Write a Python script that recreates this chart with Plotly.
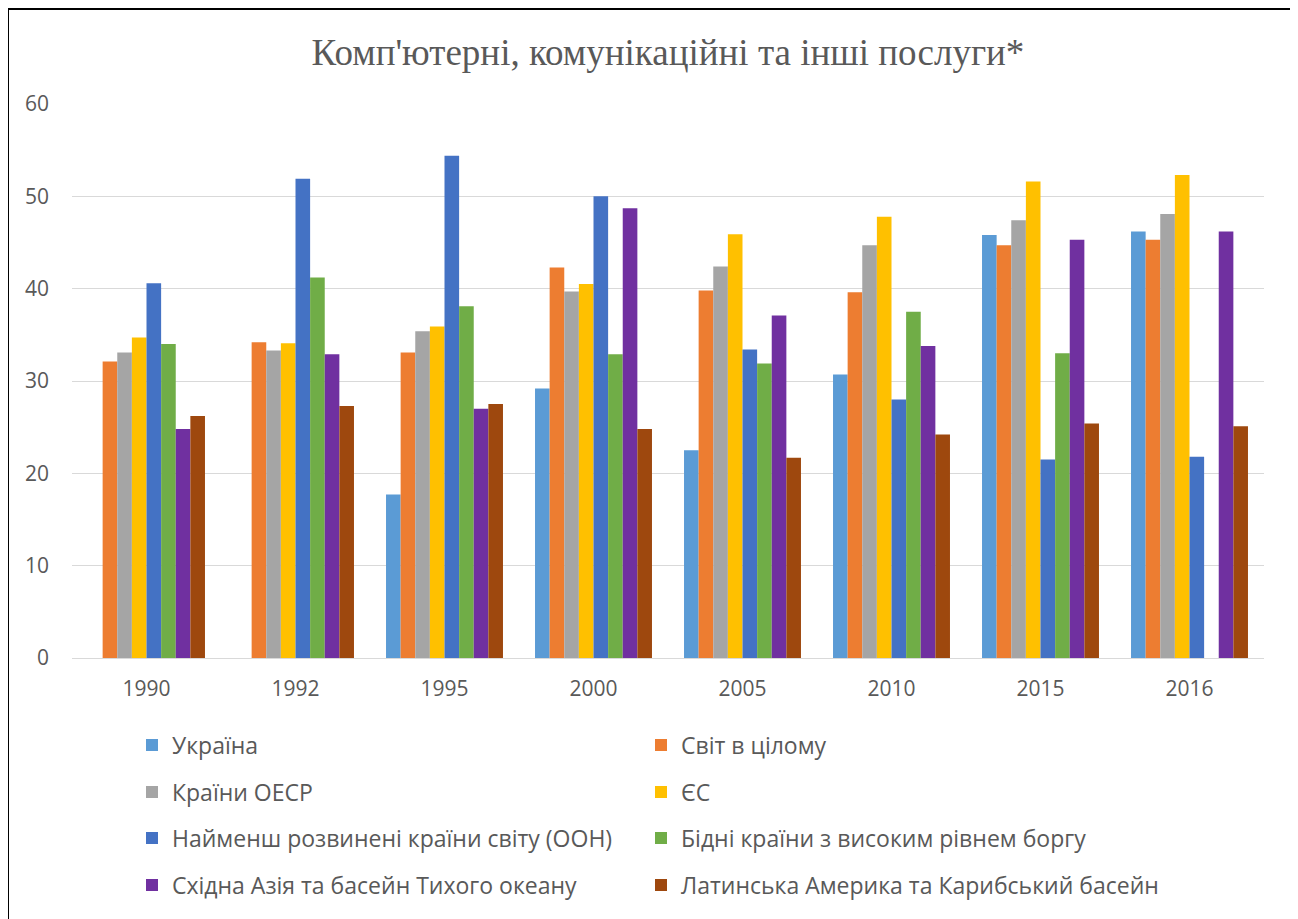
import plotly.graph_objects as go

years = ["1990", "1992", "1995", "2000", "2005", "2010", "2015", "2016"]
series_names = [
    "Україна",
    "Світ в цілому",
    "Країни ОЕСР",
    "ЄС",
    "Найменш розвинені країни світу (ООН)",
    "Бідні країни з високим рівнем боргу",
    "Східна Азія та басейн Тихого океану",
    "Латинська Америка та Карибський басейн",
]
ukraine = [None, None, 17.7, 29.2, 22.5, 30.7, 45.8, 46.2]
world = [32.1, 34.2, 33.1, 42.3, 39.8, 39.6, 44.7, 45.3]
oecd = [33.1, 33.3, 35.4, 39.7, 42.4, 44.7, 47.4, 48.1]
eu = [34.7, 34.1, 35.9, 40.5, 45.9, 47.8, 51.6, 52.3]
ldc = [40.6, 51.9, 54.4, 50.0, 33.4, 28.0, 21.5, 21.8]
hipc = [34.0, 41.2, 38.1, 32.9, 31.9, 37.5, 33.0, None]
eap = [24.8, 32.9, 27.0, 48.7, 37.1, 33.8, 45.3, 46.2]
lac = [26.2, 27.3, 27.5, 24.8, 21.7, 24.2, 25.4, 25.1]
y_ticks = [0, 10, 20, 30, 40, 50, 60]

series_values = [ukraine, world, oecd, eu, ldc, hipc, eap, lac]
colors = ["#5B9BD5", "#ED7D31", "#A5A5A5", "#FFC000",
          "#4472C4", "#70AD47", "#7030A0", "#9E480E"]

# page has an 8px body margin; figure coordinates are screen minus 8
OFF = 8
W, H = 1298 - OFF, 919 - OFF
fig = go.Figure()
legend_ids = ["legend"] + [f"legend{i}" for i in range(2, 9)]
for i, (name, vals, c) in enumerate(zip(series_names, series_values, colors)):
    fig.add_trace(go.Bar(
        name=name, x=years, y=vals, marker_color=c,
        marker_line_width=0,
        legend=legend_ids[i],
    ))

font_txt = "Open Sans"
gray = "#595959"
row_y = [745, 792, 838, 885]
col_x = [132, 641]
layout_legends = {}
for i, lid in enumerate(legend_ids):
    layout_legends[lid] = dict(
        orientation="h", xref="container", yref="container",
        x=(col_x[i % 2] - OFF) / W, y=1 - (row_y[i // 2] - OFF) / H,
        xanchor="left", yanchor="middle",
        font=dict(family=font_txt, size=23, color=gray),
        bgcolor="rgba(0,0,0,0)", itemclick=False, itemdoubleclick=False,
    )

left, right, top, bottom = 72, 1264, 104, 658
fig.update_layout(
    width=W, height=H,
    paper_bgcolor="white", plot_bgcolor="white",
    margin=dict(l=left - OFF, r=1298 - right, t=top - OFF, b=919 - bottom),
    barmode="group", bargap=0.215, bargroupgap=0,
    title=dict(text="Комп'ютерні, комунікаційні та інші послуги*",
               x=0.5, xref="paper", xanchor="center",
               y=1 - (52 - OFF) / H, yanchor="middle",
               font=dict(family="Liberation Serif", size=37, color=gray)),
    xaxis=dict(type="category", showgrid=False, showline=False, ticks="",
               ticklabelstandoff=16,
               tickfont=dict(family=font_txt, size=21, color=gray)),
    yaxis=dict(range=[0, 60], tickvals=y_ticks, showgrid=True,
               gridcolor="#D9D9D9", gridwidth=1, zeroline=True,
               zerolinecolor="#D9D9D9", zerolinewidth=1, ticks="",
               ticklabelstandoff=22,
               tickfont=dict(family=font_txt, size=21, color=gray)),
    showlegend=True,
    **layout_legends,
)

# outer chart border
pw = W - (left - OFF) - (1298 - right)
ph = H - (top - OFF) - (919 - bottom)
fig.add_shape(type="rect", xref="paper", yref="paper",
              x0=(8 - left) / pw, x1=(1292 - left) / pw,
              y0=(bottom - 930) / ph, y1=(bottom - 9) / ph,
              line=dict(color="black", width=2), fillcolor="rgba(0,0,0,0)",
              layer="below")

fig.write_html("out.html")
